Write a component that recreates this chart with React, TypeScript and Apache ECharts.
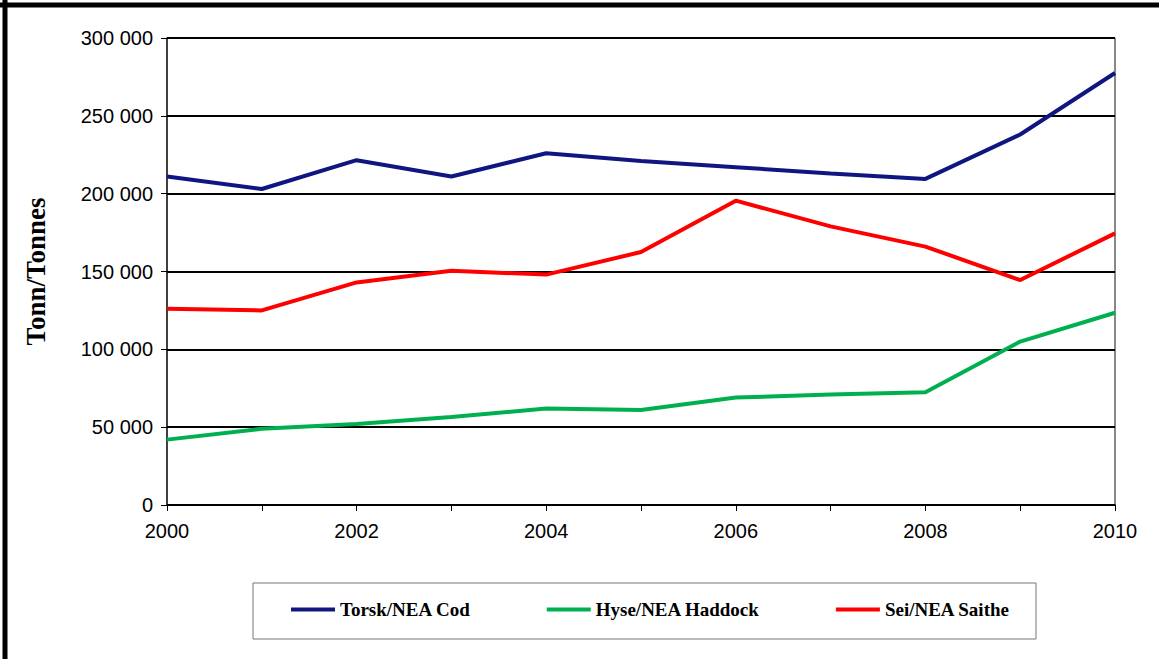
import React, { useEffect, useRef } from 'react';
import * as echarts from 'echarts';

const years = ['2000', '2001', '2002', '2003', '2004', '2005', '2006', '2007', '2008', '2009', '2010'];
const cod = [211000, 203000, 221500, 211000, 226000, 221000, 217000, 213000, 209500, 238000, 277500];
const haddock = [42000, 49000, 52000, 56500, 62000, 61000, 69000, 71000, 72500, 105000, 123500];
const saithe = [126000, 125000, 143000, 150500, 148000, 162500, 195500, 179000, 166000, 144500, 174500];

const fmt = (v: number) => String(v).replace(/\B(?=(\d{3})+(?!\d))/g, ' ');

const App = () => {
  const ref = useRef<HTMLDivElement>(null);

  useEffect(() => {
    if (!ref.current) return;
    const chart = echarts.init(ref.current, null, { renderer: 'svg' });
    const line = (name: string, data: number[], color: string) => ({
      name,
      type: 'line',
      data,
      symbol: 'none',
      lineStyle: { color, width: 4 },
      itemStyle: { color },
    });
    chart.setOption({
      animation: false,
      backgroundColor: '#fff',
      grid: { left: 167, right: 44, top: 38, bottom: 154 },
      xAxis: {
        type: 'category',
        data: years,
        boundaryGap: false,
        axisLine: { lineStyle: { color: '#000', width: 1.5 } },
        axisTick: { interval: 0, length: 6, lineStyle: { color: '#000' } },
        axisLabel: { interval: 1, color: '#000', fontFamily: 'Liberation Sans', fontSize: 20, margin: 16 },
        splitLine: { show: false },
      },
      yAxis: {
        type: 'value',
        min: 0,
        max: 300000,
        interval: 50000,
        name: 'Tonn/Tonnes',
        nameLocation: 'middle',
        nameGap: 118,
        nameTextStyle: { fontFamily: 'Liberation Serif', fontWeight: 'bold', fontSize: 27, color: '#000' },
        axisLine: { show: true, lineStyle: { color: '#000', width: 1.5 } },
        axisTick: { show: true, length: 6, lineStyle: { color: '#000' } },
        axisLabel: { color: '#000', fontFamily: 'Liberation Sans', fontSize: 20, margin: 14, formatter: fmt },
        splitLine: { lineStyle: { color: '#000', width: 2 } },
      },
      legend: {
        bottom: 35,
        left: 286,
        itemGap: 76,
        itemWidth: 44,
        itemHeight: 4,
        icon: 'rect',
        textStyle: { fontFamily: 'Liberation Serif', fontWeight: 'bold', fontSize: 19, color: '#000' },
        data: ['Torsk/NEA Cod', 'Hyse/NEA Haddock', 'Sei/NEA Saithe'],
      },
      graphic: [
        { type: 'rect', shape: { x: 253, y: 583, width: 783, height: 56 }, style: { fill: 'none', stroke: '#777', lineWidth: 1 }, z: -1 },
        { type: 'line', shape: { x1: 167, y1: 38, x2: 1115, y2: 38 }, style: { stroke: '#888', lineWidth: 2 } },
        { type: 'line', shape: { x1: 1115, y1: 38, x2: 1115, y2: 505 }, style: { stroke: '#888', lineWidth: 2 } },
        { type: 'line', shape: { x1: 0, y1: 5, x2: 1159, y2: 5 }, style: { stroke: '#000', lineWidth: 5 } },
        { type: 'line', shape: { x1: 5, y1: 0, x2: 5, y2: 659 }, style: { stroke: '#000', lineWidth: 5 } },
      ],
      series: [
        line('Torsk/NEA Cod', cod, '#0f1680'),
        line('Hyse/NEA Haddock', haddock, '#00b050'),
        line('Sei/NEA Saithe', saithe, '#ff0000'),
      ],
    });
    return () => chart.dispose();
  }, []);

  return <div ref={ref} style={{ position: 'fixed', left: 0, top: 0, width: 1159, height: 659 }} />;
};

export default App;
